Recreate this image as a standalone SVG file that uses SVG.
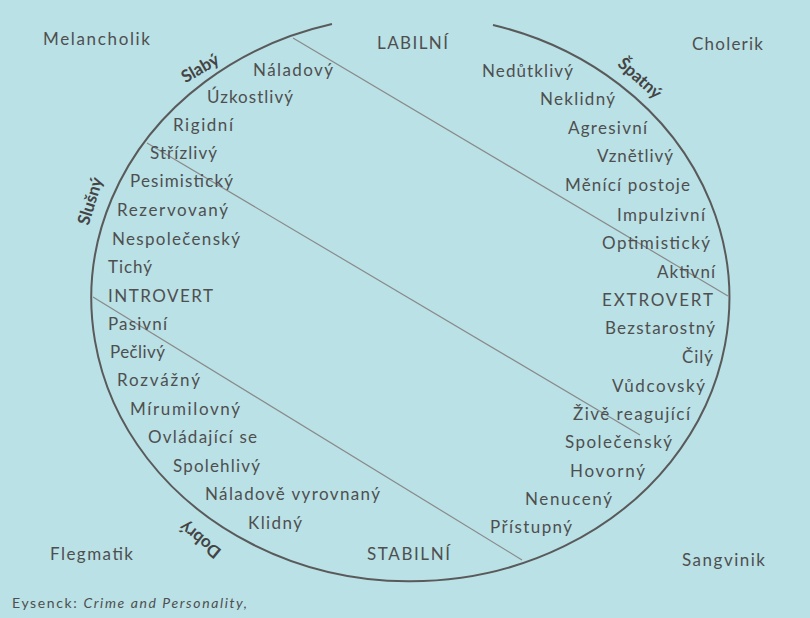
<svg xmlns="http://www.w3.org/2000/svg" width="810" height="618" viewBox="0 0 810 618">
<style>
  text { font-family: Lato, "Open Sans", "Liberation Sans", sans-serif; font-size: 17px; fill: #4f4f4f; }
  .b { font-weight: bold; font-size: 17px; fill: #444; }
  .src { font-size: 14px; }
  .ring { fill: none; stroke: #5a5a5a; stroke-width: 2; }
  .div { stroke: #8a8a8a; stroke-width: 1.2; fill: none; }
</style>
<rect width="810" height="618" fill="#b9e1e6"/>
<g id="ring"><path class="ring" d="M 493 25 A 319 283 0 1 1 332 24"/></g>
<g id="connectors">
  <line class="div" x1="293" y1="38" x2="728" y2="296"/>
  <line class="div" x1="147" y1="143" x2="640" y2="435"/>
  <line class="div" x1="93" y1="297" x2="522" y2="560"/>
</g>
<g id="corners">
  <g id="melancholik"><text x="43" y="45" textLength="107" lengthAdjust="spacing">Melancholik</text></g>
  <g id="cholerik"><text x="692" y="50" textLength="71" lengthAdjust="spacing">Cholerik</text></g>
  <g id="flegmatik"><text x="50" y="560" textLength="83" lengthAdjust="spacing">Flegmatik</text></g>
  <g id="sangvinik"><text x="682" y="566" textLength="83" lengthAdjust="spacing">Sangvinik</text></g>
</g>
<g id="poles">
  <g id="labilni"><text x="377" y="49" textLength="71" lengthAdjust="spacing">LABILNÍ</text></g>
  <g id="stabilni"><text x="367" y="560" textLength="83" lengthAdjust="spacing">STABILNÍ</text></g>
  <g id="introvert"><text x="108" y="302" textLength="105" lengthAdjust="spacing">INTROVERT</text></g>
  <g id="extrovert"><text x="602" y="306" textLength="111" lengthAdjust="spacing">EXTROVERT</text></g>
</g>
<g id="arc-labels">
  <g id="slaby"><text class="b" text-anchor="middle" transform="translate(200 68) rotate(-30)" dy="6">Slabý</text></g>
  <g id="slusny"><text class="b" text-anchor="middle" transform="translate(90 201) rotate(-73)" dy="6">Slušný</text></g>
  <g id="spatny"><text class="b" text-anchor="middle" transform="translate(640 78) rotate(42)" dy="6">Špatný</text></g>
  <g id="dobry"><text class="b" text-anchor="middle" transform="translate(200 540) rotate(219)" dy="6">Dobrý</text></g>
</g>
<g id="left-traits">
  <g id="t-naladovy"><text x="253" y="76" textLength="80" lengthAdjust="spacing">Náladový</text></g>
  <g id="t-uzkostlivy"><text x="207" y="103" textLength="86" lengthAdjust="spacing">Úzkostlivý</text></g>
  <g id="t-rigidni"><text x="173" y="131" textLength="60" lengthAdjust="spacing">Rigidní</text></g>
  <g id="t-strizlivy"><text x="150" y="159" textLength="67" lengthAdjust="spacing">Střízlivý</text></g>
  <g id="t-pesimisticky"><text x="130" y="187" textLength="103" lengthAdjust="spacing">Pesimistický</text></g>
  <g id="t-rezervovany"><text x="117" y="216" textLength="111" lengthAdjust="spacing">Rezervovaný</text></g>
  <g id="t-nespolecensky"><text x="112" y="245" textLength="128" lengthAdjust="spacing">Nespolečenský</text></g>
  <g id="t-tichy"><text x="108" y="273" textLength="44" lengthAdjust="spacing">Tichý</text></g>
  <g id="t-pasivni"><text x="108" y="330" textLength="59" lengthAdjust="spacing">Pasivní</text></g>
  <g id="t-peclivy"><text x="110" y="358" textLength="55" lengthAdjust="spacing">Pečlivý</text></g>
  <g id="t-rozvazny"><text x="117" y="386" textLength="83" lengthAdjust="spacing">Rozvážný</text></g>
  <g id="t-mirumilovny"><text x="130" y="415" textLength="110" lengthAdjust="spacing">Mírumilovný</text></g>
  <g id="t-ovladajici"><text x="148" y="443" textLength="109" lengthAdjust="spacing">Ovládající se</text></g>
  <g id="t-spolehlivy"><text x="173" y="472" textLength="87" lengthAdjust="spacing">Spolehlivý</text></g>
  <g id="t-naladove"><text x="205" y="500" textLength="175" lengthAdjust="spacing">Náladově vyrovnaný</text></g>
  <g id="t-klidny"><text x="248" y="529" textLength="54" lengthAdjust="spacing">Klidný</text></g>
</g>
<g id="right-traits">
  <g id="t-nedutklivy"><text x="482" y="77" textLength="91" lengthAdjust="spacing">Nedůtklivý</text></g>
  <g id="t-neklidny"><text x="540" y="105" textLength="75" lengthAdjust="spacing">Neklidný</text></g>
  <g id="t-agresivni"><text x="568" y="134" textLength="79" lengthAdjust="spacing">Agresivní</text></g>
  <g id="t-vznetlivy"><text x="597" y="162" textLength="76" lengthAdjust="spacing">Vznětlivý</text></g>
  <g id="t-menici"><text x="565" y="191" textLength="125" lengthAdjust="spacing">Měnící postoje</text></g>
  <g id="t-impulzivni"><text x="617" y="221" textLength="88" lengthAdjust="spacing">Impulzivní</text></g>
  <g id="t-optimisticky"><text x="602" y="249" textLength="108" lengthAdjust="spacing">Optimistický</text></g>
  <g id="t-aktivni"><text x="657" y="278" textLength="58" lengthAdjust="spacing">Aktivní</text></g>
  <g id="t-bezstarostny"><text x="605" y="334" textLength="110" lengthAdjust="spacing">Bezstarostný</text></g>
  <g id="t-cily"><text x="682" y="363" textLength="31" lengthAdjust="spacing">Čilý</text></g>
  <g id="t-vudcovsky"><text x="612" y="392" textLength="93" lengthAdjust="spacing">Vůdcovský</text></g>
  <g id="t-zive"><text x="573" y="420" textLength="117" lengthAdjust="spacing">Živě reagující</text></g>
  <g id="t-spolecensky"><text x="565" y="448" textLength="107" lengthAdjust="spacing">Společenský</text></g>
  <g id="t-hovorny"><text x="570" y="477" textLength="75" lengthAdjust="spacing">Hovorný</text></g>
  <g id="t-nenuceny"><text x="525" y="505" textLength="87" lengthAdjust="spacing">Nenucený</text></g>
  <g id="t-pristupny"><text x="490" y="533" textLength="82" lengthAdjust="spacing">Přístupný</text></g>
</g>
<g id="source"><text class="src" x="12" y="608" textLength="235" lengthAdjust="spacing">Eysenck: <tspan font-style="italic">Crime and Personality,</tspan></text></g>
</svg>
